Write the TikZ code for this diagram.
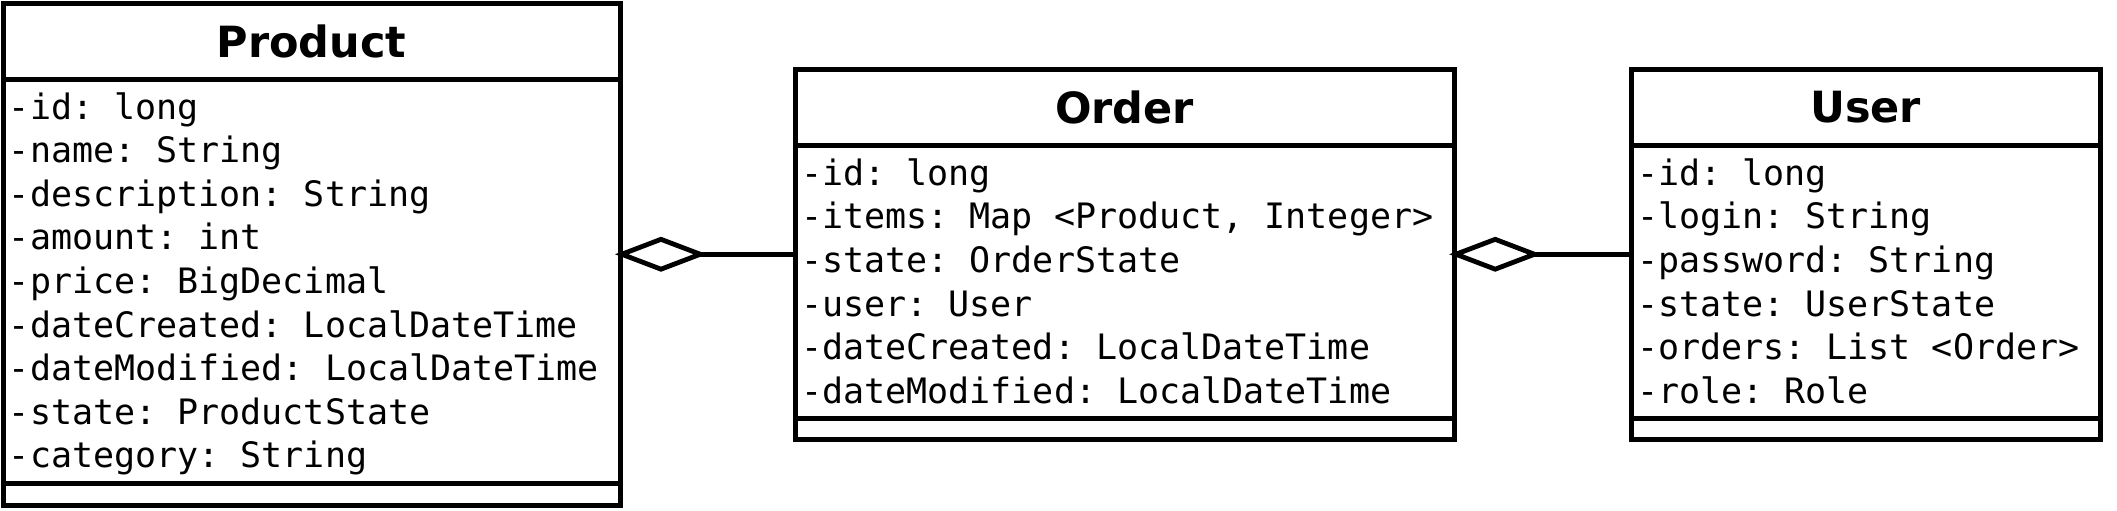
\documentclass[tikz,border=0pt]{standalone}
\usepackage{fontspec}
\setmainfont{DejaVu Sans}
\setmonofont{DejaVu Sans Mono}
\usepackage{tikz}
\usetikzlibrary{arrows.meta,positioning,fit}
\newcommand{\clsfont}{\fontsize{21.5pt}{26pt}\selectfont\bfseries}
\newcommand{\attrfont}{\fontsize{17.5pt}{21.8pt}\selectfont\ttfamily\frenchspacing}

\begin{document}
\begin{tikzpicture}[
  part/.style={draw,line width=2.5pt,outer sep=0pt,inner xsep=3pt,inner ysep=0pt,text width=#1},
  clshead/.style={part=#1,align=center,minimum height=38pt,font=\clsfont},
  clsattr/.style={part=#1,align=flush left,font=\attrfont,
    execute at begin node={\spaceskip=0pt\xspaceskip=0pt\rule{0pt}{16.7pt}},
    execute at end node={\rule[-4.2pt]{0pt}{4.2pt}}},
  clsops/.style={part=#1},
  agg/.style={-{Diamond[open,length=46pt,width=17.5pt]},shorten >=-2.5pt,line width=2.4pt}
]
  \useasboundingbox (0,0) rectangle (1058.5pt,-255pt);

  \node[clshead=302.5pt,anchor=north west] (product-head) at (1.5pt,-1.5pt) {Product};
  \node[clsattr=302.5pt,minimum height=202pt,below=0pt of product-head] (product-attr)
    {-id: long\\
     -name: String\\
     -description: String\\
     -amount: int\\
     -price: BigDecimal\\
     -dateCreated: LocalDateTime\\
     -dateModified: LocalDateTime\\
     -state: ProductState\\
     -category: String};
  \node[clsops=302.5pt,minimum height=11pt,below=0pt of product-attr] (product-ops) {};

  \node[clshead=323.5pt,anchor=north west] (order-head) at (397.6pt,-34.5pt) {Order};
  \node[clsattr=323.5pt,minimum height=136.75pt,below=0pt of order-head] (order-attr)
    {-id: long\\
     -items: Map <Product, Integer>\\
     -state: OrderState\\
     -user: User\\
     -dateCreated: LocalDateTime\\
     -dateModified: LocalDateTime};
  \node[clsops=323.5pt,minimum height=10.5pt,below=0pt of order-attr] (order-ops) {};

  \node[clshead=228.75pt,anchor=north west] (user-head) at (815.5pt,-34.5pt) {User};
  \node[clsattr=228.75pt,minimum height=136.75pt,below=0pt of user-head] (user-attr)
    {-id: long\\
     -login: String\\
     -password: String\\
     -state: UserState\\
     -orders: List <Order>\\
     -role: Role};
  \node[clsops=228.75pt,minimum height=10.5pt,below=0pt of user-attr] (user-ops) {};

  \node[fit=(product-head)(product-ops),inner sep=0pt,outer sep=0pt] (product) {};
  \node[fit=(order-head)(order-ops),inner sep=0pt,outer sep=0pt] (order) {};
  \node[fit=(user-head)(user-ops),inner sep=0pt,outer sep=0pt] (user) {};

  \draw[agg] (order.west) -- (product.east |- order.west);
  \draw[agg] (user.west) -- (order.east |- user.west);
\end{tikzpicture}
\end{document}
